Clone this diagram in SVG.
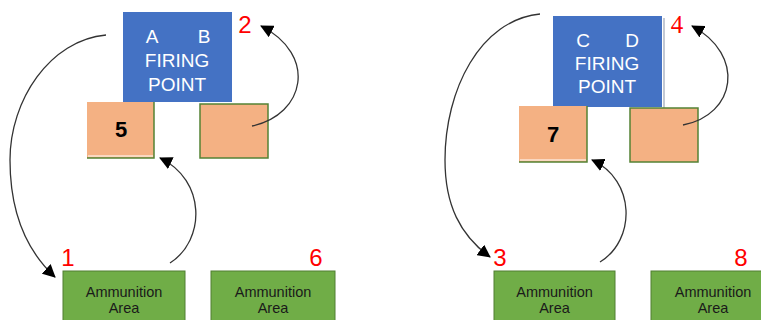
<svg xmlns="http://www.w3.org/2000/svg" width="761" height="320" viewBox="0 0 761 320">
<defs>
<marker id="ah" markerWidth="13" markerHeight="13" viewBox="0 0 13 13" refX="12" refY="6.5" orient="auto" markerUnits="userSpaceOnUse">
<path d="M0,0 L13,6.5 L0,13 z" fill="#000"/>
</marker>
</defs>
<style>
.bg{fill:#fff}
.fp{fill:#4472C4}
.fpt{fill:#fff;font-family:"Liberation Sans",Arial,sans-serif;font-size:19px;text-anchor:middle}
.or{fill:#F4B183}
.orb{fill:#F4B183;stroke:#548235;stroke-width:1.5}
.edge{fill:none;stroke:#548235;stroke-width:1.5}
.num{fill:#000;font-family:"Liberation Sans",Arial,sans-serif;font-size:22px;font-weight:bold;text-anchor:middle}
.am{fill:#70AD47;stroke:#507E32;stroke-width:1}
.amt{fill:#1a1a1a;font-family:"Liberation Sans",Arial,sans-serif;font-size:14.5px;text-anchor:middle}
.red{fill:#FF0000;font-family:"Liberation Sans",Arial,sans-serif;font-size:24px;text-anchor:middle}
.con{fill:none;stroke:#333;stroke-width:1.3;marker-end:url(#ah)}
</style>
<rect class="bg" x="0" y="0" width="761" height="320"/>

<g id="fp-ab">
<rect class="fp" x="123" y="12" width="109" height="90"/>
<text class="fpt"><tspan x="152" y="43">A</tspan><tspan x="204" y="43">B</tspan><tspan x="177" y="67">FIRING</tspan><tspan x="177" y="91">POINT</tspan></text>
</g>
<g id="box5">
<rect class="or" x="87" y="102" width="67" height="56"/>
<polyline class="edge" points="154,102 154,158 87,158"/>
<line x1="88" y1="156" x2="153" y2="156" stroke="#fff" stroke-width="1.2"/>
<text class="num" x="121" y="137">5</text>
</g>
<g id="box-ab-right">
<rect class="orb" x="200" y="104" width="68" height="54"/>
</g>
<g id="amm1">
<rect class="am" x="63" y="271" width="122" height="52"/>
<text class="amt"><tspan x="124" y="297">Ammunition</tspan><tspan x="124" y="313">Area</tspan></text>
</g>
<g id="amm6">
<rect class="am" x="211" y="271" width="124" height="52"/>
<text class="amt"><tspan x="273" y="297">Ammunition</tspan><tspan x="273" y="313">Area</tspan></text>
</g>

<g id="fp-cd">
<line x1="664" y1="18" x2="664" y2="108" stroke="#9aa5b8" stroke-width="1.2"/>
<rect class="fp" x="553" y="16" width="109" height="91"/>
<text class="fpt"><tspan x="583" y="47">C</tspan><tspan x="632" y="47">D</tspan><tspan x="607" y="70">FIRING</tspan><tspan x="607" y="93">POINT</tspan></text>
</g>
<g id="box7">
<rect class="or" x="519" y="106" width="68" height="56"/>
<polyline class="edge" points="587,106 587,162 519,162"/>
<line x1="520" y1="160" x2="586" y2="160" stroke="#fff" stroke-width="1.2"/>
<text class="num" x="553" y="142">7</text>
</g>
<g id="box-cd-right">
<rect class="orb" x="630" y="108" width="68" height="54"/>
</g>
<g id="amm3">
<rect class="am" x="494" y="271" width="121" height="52"/>
<text class="amt"><tspan x="554.5" y="297">Ammunition</tspan><tspan x="554.5" y="313">Area</tspan></text>
</g>
<g id="amm8">
<rect class="am" x="651" y="271" width="124" height="52"/>
<text class="amt"><tspan x="713" y="297">Ammunition</tspan><tspan x="713" y="313">Area</tspan></text>
</g>

<g id="labels">
<text class="red" x="68" y="266">1</text>
<text class="red" x="245" y="33">2</text>
<text class="red" x="500" y="266">3</text>
<text class="red" x="677" y="33" style="font-family:'Liberation Serif','Times New Roman',serif;font-size:25px">4</text>
<text class="red" x="316" y="266">6</text>
<text class="red" x="741" y="266">8</text>
</g>

<g id="connectors">
<path class="con" d="M106,35 C50,40 10,100 10,160 C10,215 28,252 55,277"/>
<path class="con" d="M170,263 C206,240 206,180 160,158"/>
<path class="con" d="M252,126 C305,115 318,55 261,26"/>
<path class="con" d="M540,14 C480,20 445,90 445,160 C445,205 460,235 490,257"/>
<path class="con" d="M600,262 C636,240 636,180 592,160"/>
<path class="con" d="M683,125 C736,115 746,55 692,26"/>
</g>
</svg>
